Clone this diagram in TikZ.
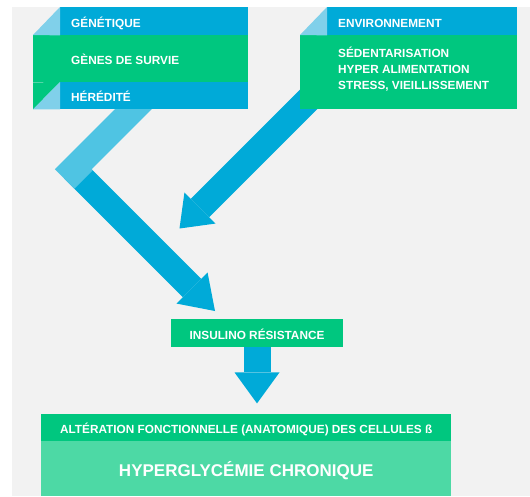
\documentclass[tikz,border=0pt]{standalone}
\usepackage{fontspec}
\setmainfont{Liberation Sans}
\usetikzlibrary{positioning,calc}
\definecolor{bggrey}{HTML}{F2F2F2}
\definecolor{dblue}{HTML}{00AAD8}
\definecolor{lblue}{HTML}{4FC4E3}
\definecolor{fblue}{HTML}{80D0EA}
\definecolor{dgreen}{HTML}{00C77F}
\definecolor{pgreen}{HTML}{4DD9A5}
\begin{document}
\begin{tikzpicture}[x=1pt,y=-1pt,line join=miter,
		band/.style={fill=#1,inner sep=0pt,anchor=north west},
		lbl/.style={text=white,inner sep=0pt,font=\fontsize{11.8pt}{16pt}\selectfont\bfseries},
		txt/.style={lbl,text height=12.5pt,text depth=0pt},
		shaft/.style={draw=dblue,line width=26pt}]
	\useasboundingbox (0,0) rectangle (530,496);
	\fill[bggrey] (12,7) rectangle (530,496);

	\coordinate (hstart) at (147.5,95);
	\coordinate (hcorner) at (73.25,169.25);
	\coordinate (hbase) at (192,288);
	\coordinate (htip) at (215,311);
	\draw[shaft] (hcorner) -- (hbase);
	\draw[shaft,draw=lblue] (hstart) -- (hcorner) -- ($(hcorner)+(10.25,10.25)$);
	\fill[dblue] ($(hbase)!22pt!90:(htip)$) -- (htip) -- ($(hbase)!22pt!-90:(htip)$) -- cycle;

	\coordinate (estart) at (330,78);
	\coordinate (ebase) at (200,208);
	\coordinate (etip) at (179.5,228.5);
	\draw[shaft] (estart) -- (ebase);
	\fill[dblue] ($(ebase)!22pt!90:(etip)$) -- (etip) -- ($(ebase)!22pt!-90:(etip)$) -- cycle;

	\node[band=dblue,minimum width=188pt,minimum height=28pt] (gen) at (60,7) {};
	\node[band=dgreen,minimum width=215pt,minimum height=47pt] (surv) at (33,35) {};
	\node[band=dblue,minimum width=188pt,minimum height=27pt] (hered) at (60,82) {};
	\fill[fblue] (surv.north west) -- (gen.north west) -- (gen.south west) -- cycle;
	\fill[dgreen] (surv.south west) -- (hered.north west) -- (surv.west |- hered.south) -- cycle;
	\fill[fblue] (hered.north west) -- (hered.south west) -- (surv.west |- hered.south) -- cycle;
	\node[txt,right=11pt of gen.west] (gentxt) {GÉNÉTIQUE};
	\node[txt,right=38pt of surv.west] (survtxt) {GÈNES DE SURVIE};
	\node[txt,right=11pt of hered.west] (heredtxt) {HÉRÉDITÉ};

	\node[band=dblue,minimum width=190pt,minimum height=28pt] (env) at (327,7) {};
	\node[band=dgreen,minimum width=217pt,minimum height=74pt] (envfac) at (300,35) {};
	\fill[fblue] (envfac.north west) -- (env.north west) -- (env.south west) -- cycle;
	\node[txt,right=11pt of env.west] (envtxt) {ENVIRONNEMENT};
	\node[lbl,align=left,anchor=north west] (factxt) at (338,46.5) {SÉDENTARISATION\\HYPER ALIMENTATION\\STRESS, VIEILLISSEMENT};

	\node[band=dgreen,anchor=north,minimum width=172pt,minimum height=28pt,txt] (insul) at (257,319) {INSULINO RÉSISTANCE};
	\coordinate[below=25pt of insul.south] (dbase);
	\coordinate[below=56pt of insul.south] (dtip);
	\draw[shaft,line width=27pt] (insul.south) -- (dbase);
	\fill[dblue] ($(dbase)!22.5pt!90:(dtip)$) -- (dtip) -- ($(dbase)!22.5pt!-90:(dtip)$) -- cycle;

	\node[band=dgreen,minimum width=410pt,minimum height=27pt,txt] (alter) at (41,414) {ALTÉRATION FONCTIONNELLE (ANATOMIQUE) DES CELLULES ß};
	\node[band=pgreen,minimum width=410pt,minimum height=55pt,text=white,font=\fontsize{17pt}{20pt}\selectfont\bfseries,text height=15.2pt,text depth=0pt] (hyper) at (41,441) {HYPERGLYCÉMIE CHRONIQUE};
\end{tikzpicture}
\end{document}
